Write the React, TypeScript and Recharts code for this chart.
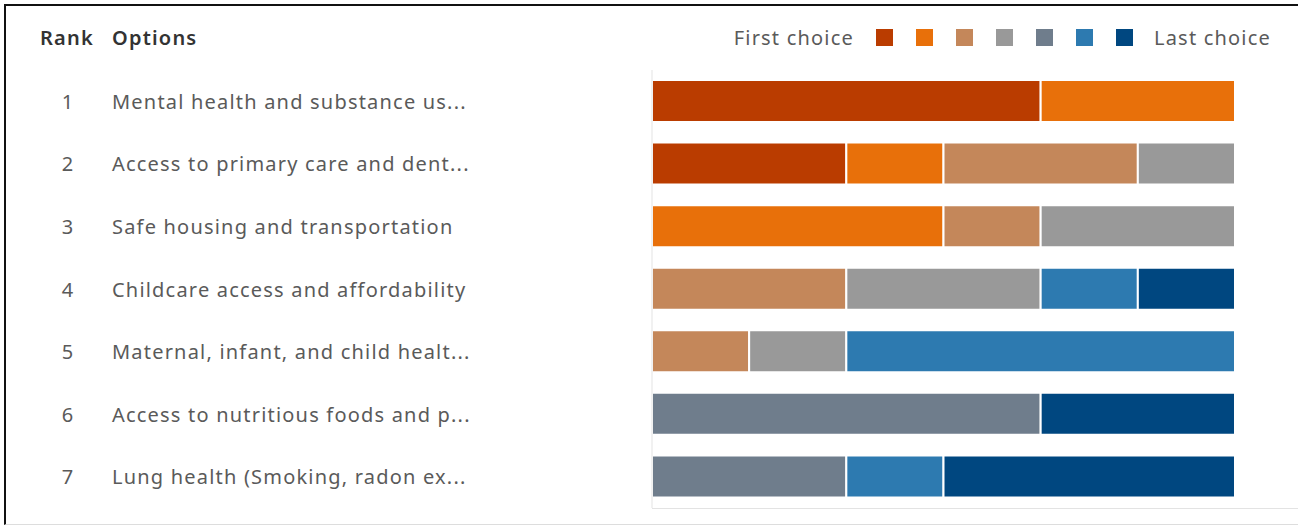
import { BarChart, Bar, XAxis, YAxis } from "recharts";

// options in rank order
const ranks = [1, 2, 3, 4, 5, 6, 7];
const options = [
  "Mental health and substance us...",
  "Access to primary care and dent...",
  "Safe housing and transportation",
  "Childcare access and affordability",
  "Maternal, infant, and child healt...",
  "Access to nutritious foods and p...",
  "Lung health (Smoking, radon ex...",
];

// number of respondents putting each option at position 1..7
const choice1 = [4, 2, 0, 0, 0, 0, 0];
const choice2 = [2, 1, 3, 0, 0, 0, 0];
const choice3 = [0, 2, 1, 2, 1, 0, 0];
const choice4 = [0, 1, 2, 2, 1, 0, 0];
const choice5 = [0, 0, 0, 0, 0, 4, 2];
const choice6 = [0, 0, 0, 1, 4, 0, 1];
const choice7 = [0, 0, 0, 1, 0, 2, 3];

const choiceColors = ["#BA3C00", "#E8700A", "#C4875A", "#999999", "#6F7D8C", "#2D7AB0", "#004780"];
const series = [choice1, choice2, choice3, choice4, choice5, choice6, choice7];

const data = options.map((option, i) => {
  const row: { [key: string]: string | number } = { option, rank: ranks[i] };
  series.forEach((s, k) => {
    row["c" + (k + 1)] = s[i];
  });
  return row;
});

const font = "'Noto Sans', 'Open Sans', sans-serif";
const textSize = 20;
const spacing = 1.2;

function OptionTick(props: any) {
  const { y, payload, index } = props;
  return (
    <g fontFamily={font} fontSize={textSize} fill="#5a5a5a" letterSpacing={spacing}>
      <text x={68} y={y} textAnchor="middle" dominantBaseline="central">
        {ranks[index]}
      </text>
      <text x={112} y={y} textAnchor="start" dominantBaseline="central">
        {payload.value}
      </text>
    </g>
  );
}

export default function App() {
  return (
    <div style={{ position: "relative", width: 1298, height: 527, background: "#fff", overflow: "hidden", fontFamily: font, letterSpacing: spacing }}>
      <style>{`body{margin:0}`}</style>
      <div style={{ position: "absolute", left: 4, top: 4, right: -10, bottom: 2, borderLeft: "2px solid #111", borderTop: "2px solid #111", borderBottom: "1px solid #ddd" }} />

      <div style={{ position: "absolute", left: 40, top: 24, fontSize: textSize, fontWeight: 600, color: "#333" }}>Rank</div>
      <div style={{ position: "absolute", left: 112, top: 24, fontSize: textSize, fontWeight: 600, color: "#333" }}>Options</div>

      <div style={{ position: "absolute", right: 27, top: 24, display: "flex", alignItems: "center", fontSize: textSize, color: "#5a5a5a" }}>
        <span style={{ marginRight: 22 }}>First choice</span>
        {choiceColors.map((c) => (
          <span key={c} style={{ display: "inline-block", width: 17, height: 17, background: c, marginRight: 23 }} />
        ))}
        <span style={{ marginLeft: -2 }}>Last choice</span>
      </div>

      <div style={{ position: "absolute", left: 652, top: 508, width: 660, height: 1, background: "#e3e3e3" }} />

      <div style={{ position: "absolute", left: 0, top: 0 }}>
        <BarChart width={1298} height={527} data={data} layout="vertical" margin={{ top: 70, right: 63, bottom: 19, left: 0 }} barSize={42}>
          <XAxis type="number" domain={[0, 6]} hide />
          <YAxis type="category" dataKey="option" width={652} axisLine={{ stroke: "#e3e3e3" }} tickLine={false} tick={<OptionTick />} interval={0} />
          {choiceColors.map((c, k) => (
            <Bar key={k} dataKey={"c" + (k + 1)} stackId="rank" fill={c} stroke="#fff" strokeWidth={2} isAnimationActive={false} />
          ))}
        </BarChart>
      </div>
    </div>
  );
}
